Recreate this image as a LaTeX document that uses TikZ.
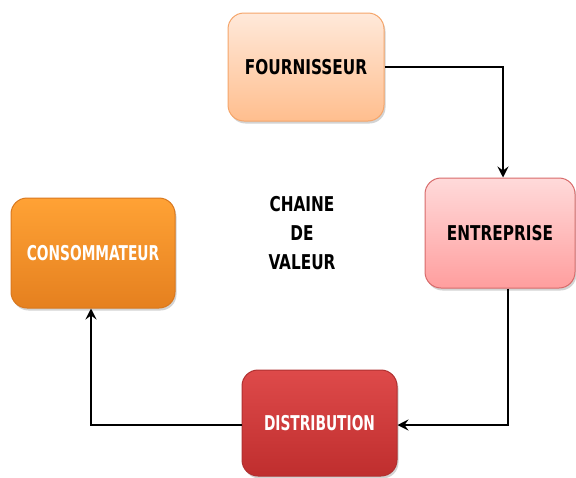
\documentclass[tikz,border=0pt]{standalone}
\usepackage{fontspec}
\setmainfont{DejaVu Sans Condensed}
\usetikzlibrary{shadows,arrows.meta}
\definecolor{fourBorder}{HTML}{F5A56A}
\definecolor{fourTop}{HTML}{FFE9DA}
\definecolor{fourBot}{HTML}{FFBE8E}
\definecolor{entBorder}{HTML}{D86A6A}
\definecolor{entTop}{HTML}{FFDADA}
\definecolor{entBot}{HTML}{FF9E9E}
\definecolor{conTop}{HTML}{FFA235}
\definecolor{conBot}{HTML}{E5801F}
\definecolor{conBorder}{HTML}{D9781E}
\definecolor{disTop}{HTML}{DE4A4A}
\definecolor{disBot}{HTML}{BF2E2E}
\definecolor{disBorder}{HTML}{B03030}
% caps stretched vertically; optional horizontal factor
\newcommand{\tallcaps}[2][1]{\scalebox{#1}[1.2]{#2}}
\tikzset{
  stagebox/.style={rounded corners=16pt, line width=1pt, drop shadow={shadow xshift=1.5pt, shadow yshift=-2.5pt, opacity=0.35},
    font=\fontsize{17}{20}\selectfont\bfseries, align=center},
  flow/.style={line width=2.2pt, -{Stealth[length=11pt,width=11pt,inset=4pt]}},
}
\begin{document}
\begin{tikzpicture}[x=1pt,y=-1pt]
\useasboundingbox (0,0) rectangle (576,477);
\node[stagebox, draw=fourBorder, top color=fourTop, bottom color=fourBot,
  minimum width=156pt, minimum height=108pt] (four) at (306,67) {\tallcaps{FOURNISSEUR}};
\node[stagebox, draw=entBorder, top color=entTop, bottom color=entBot,
  minimum width=150pt, minimum height=110pt] (ent) at (500,233) {\tallcaps{ENTREPRISE}};
\node[stagebox, draw=conBorder, top color=conTop, bottom color=conBot, text=white,
  minimum width=164pt, minimum height=110pt] (con) at (93,253) {\tallcaps[0.9]{CONSOMMATEUR}};
\node[stagebox, draw=disBorder, top color=disTop, bottom color=disBot, text=white,
  minimum width=155pt, minimum height=106pt] (dis) at (319.5,423) {\tallcaps[0.9]{DISTRIBUTION}};
\node[font=\fontsize{17}{29}\selectfont\bfseries, align=center] (title) at (302,233)
  {\tallcaps{CHAINE}\\\tallcaps{DE}\\\tallcaps{VALEUR}};
\coordinate (c1) at (503,67);
\coordinate (c2) at (508,425);
\coordinate (c3) at (91,425);
\draw[flow] (four.east |- c1) -- (c1) -- (c1 |- ent.north);
\draw[flow] (c2 |- ent.south) -- (c2) -- (dis.east |- c2);
\draw[flow] (dis.west |- c3) -- (c3) -- (c3 |- con.south);
\end{tikzpicture}
\end{document}
